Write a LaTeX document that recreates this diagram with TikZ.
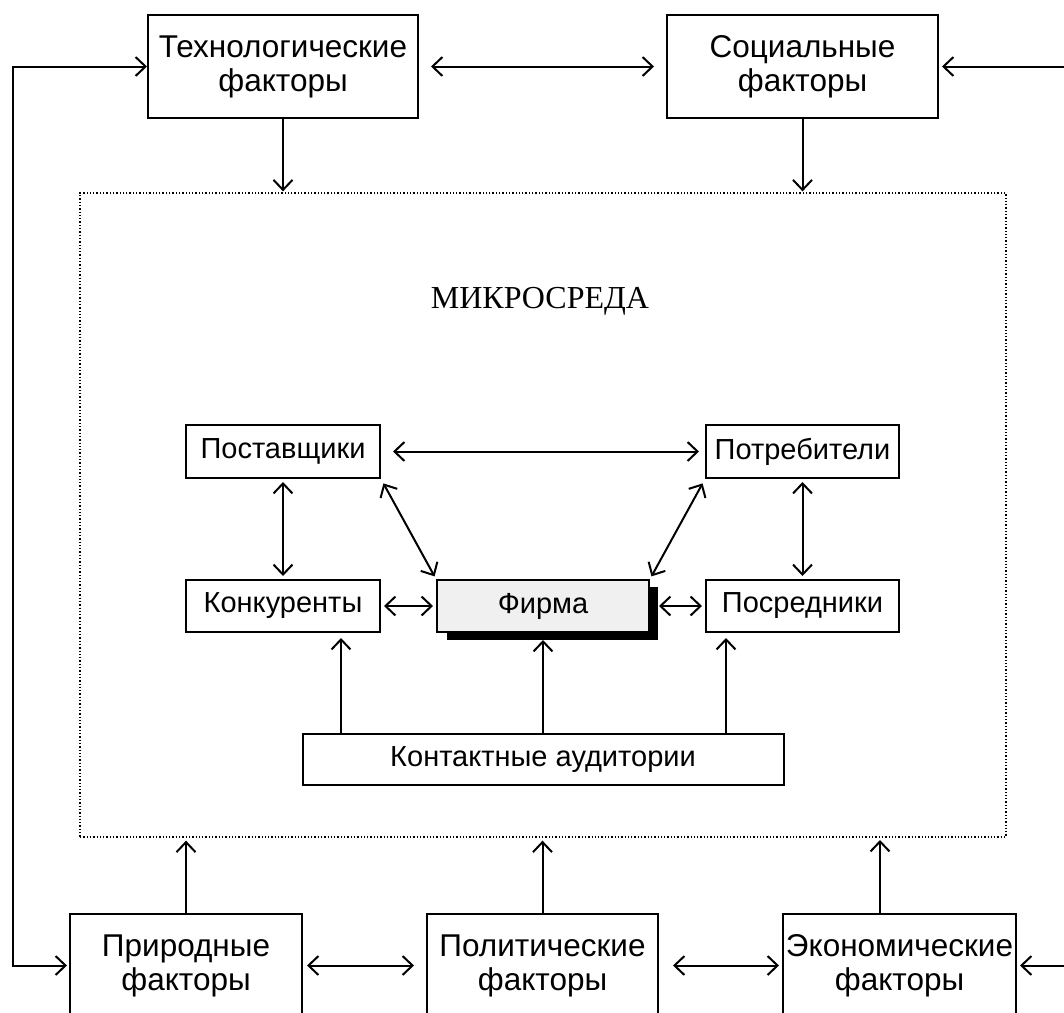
\documentclass[tikz,border=0pt]{standalone}
\usepackage{fontspec}
\setmainfont{Liberation Sans}
\newfontfamily\serifrm{Liberation Serif}
\usetikzlibrary{arrows.meta}
\tikzset{
  tip/.tip={Straight Barb[length=10pt,width=19pt,line width=2pt]},
  outerbox/.style={draw,line width=2pt,rectangle,inner sep=0pt,align=center,
    font=\fontsize{31.5}{34}\selectfont},
  innerbox/.style={draw,line width=2pt,rectangle,inner sep=0pt,align=center,
    font=\fontsize{29}{32}\selectfont},
  both/.style={line width=2pt,tip-tip},
  conn/.style={both,shorten <=3pt,shorten >=3pt},
  oneway/.style={line width=2pt,-tip,shorten >=3pt}
}
\begin{document}
\begin{tikzpicture}[x=1pt,y=-1pt]
\useasboundingbox (0,0) rectangle (1064,1012);
\begin{scope}
\clip (0,0) rectangle (1064,1012);
% outer factor boxes
\node[outerbox,minimum width=270pt,minimum height=103pt] (tech) at (283,66.5) {Технологические\\факторы};
\node[outerbox,minimum width=271pt,minimum height=103pt] (soc) at (802.5,66.5) {Социальные\\факторы};
\node[outerbox,minimum width=232pt,minimum height=103pt] (prir) at (186,965.5) {Природные\\факторы};
\node[outerbox,minimum width=231pt,minimum height=103pt] (pol) at (542.5,965.5) {Политические\\факторы};
\node[outerbox,minimum width=233pt,minimum height=103pt] (econ) at (899.5,965.5) {Экономические\\факторы};
% microenvironment frame
\node[draw,dotted,line width=1.3pt,rectangle,minimum width=926pt,minimum height=644pt,inner sep=0pt] (micro) at (543,515) {};
\node[font=\serifrm\fontsize{32}{36}\selectfont] (mtitle) at (540,301) {МИКРОСРЕДА};
% inner boxes
\node[innerbox,minimum width=194pt,minimum height=53pt] (post) at (283,451.5) {Поставщики};
\node[innerbox,minimum width=194pt,minimum height=52pt] (konk) at (283,606) {Конкуренты};
\node[innerbox,minimum width=193pt,minimum height=53pt] (potr) at (802.5,451.5) {Потребители};
\node[innerbox,minimum width=193pt,minimum height=52pt] (posr) at (802.5,606) {Посредники};
\fill (447,587) rectangle (658,640);
\node[innerbox,fill=black!6,minimum width=212pt,minimum height=52pt] (firm) at (543,606) {Фирма};
\node[innerbox,minimum width=481pt,minimum height=51pt] (kont) at (543,759.5) {Контактные аудитории};
% coordinates
\coordinate (lx) at (13,0);
\coordinate (rtop) at (1064,66.5);
\coordinate (rbot) at (1064,965.5);
% outer connectors
\draw[both,shorten >=2pt] (tech.west) -- (tech.west -| lx) |- (prir.west);
\draw[oneway] (rtop) -- (soc.east);
\draw[oneway] (rbot) -- (econ.east);
\draw[both,shorten <=12pt,shorten >=12pt] (tech) -- (soc);
\draw[both,shorten <=4pt,shorten >=12pt] (prir) -- (pol);
\draw[both,shorten <=14pt,shorten >=3pt] (pol) -- (econ);
\draw[oneway,shorten >=1pt] (tech.south) -- (tech.south |- micro.north);
\draw[oneway,shorten >=1pt] (soc.south) -- (soc.south |- micro.north);
\draw[oneway] (prir.north) -- (prir.north |- micro.south);
\draw[oneway] (pol.north) -- (pol.north |- micro.south);
\draw[oneway] (econ.north -| 880,0) -- (880,837);
% inner connectors
\draw[both,shorten <=12pt,shorten >=6pt] (post) -- (potr);
\draw[conn] (post) -- (konk);
\draw[conn] (potr) -- (posr);
\draw[conn] (konk) -- (firm);
\draw[both,shorten <=9pt,shorten >=3pt] (firm) -- (posr);
\draw[conn,shorten <=5pt] (post.south east) -- (firm.north west);
\draw[conn,shorten <=5pt] (potr.south west) -- (firm.north east);
\draw[oneway,shorten >=5pt] (kont.north -| 341,0) -- (konk.south -| 341,0);
\draw[oneway,shorten >=7pt] (kont.north) -- (firm.south);
\draw[oneway,shorten >=5pt] (kont.north -| 726,0) -- (posr.south -| 726,0);
\end{scope}
\end{tikzpicture}
\end{document}
